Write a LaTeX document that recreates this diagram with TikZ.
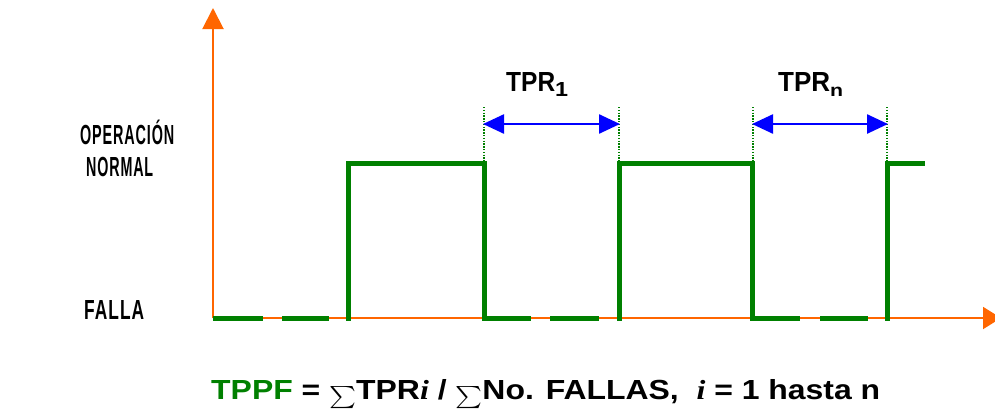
\documentclass[tikz,border=0pt]{standalone}
\usepackage{fontspec}
\setmainfont{Liberation Sans}
\newfontfamily\tnr{Liberation Serif}
\newfontfamily\lblfont{Liberation Sans}[LetterSpace=6]
\usepackage{graphicx}
\usepackage{amsmath}
\usetikzlibrary{arrows.meta}
\definecolor{axisor}{RGB}{255,102,0}
\definecolor{sig}{RGB}{0,128,0}
\definecolor{arr}{RGB}{0,0,255}
\newcommand{\capbox}[1]{\raisebox{0pt}[\fontcharht\font`H][0pt]{#1}}
\newcommand{\fitto}[3]{\resizebox{#1pt}{#2pt}{\capbox{#3}}}
\newcommand{\sumsym}{\raisebox{-1.5pt}{\scalebox{0.8}{$\boldsymbol{\sum}$}}}
\begin{document}
\begin{tikzpicture}[x=1pt,y=-1pt,
  axis/.style={axisor,line width=2pt},
  sigline/.style={sig,line width=5pt,line cap=butt,line join=miter},
  guide/.style={sig,line width=1.2pt,dash pattern=on 1.3pt off 1.5pt},
  span/.style={arr,line width=2.5pt,{Triangle[length=21pt,width=19pt]}-{Triangle[length=21pt,width=19pt]}},
  lbl/.style={inner sep=0pt,anchor=base west},
]
\useasboundingbox (0,0) rectangle (995,408);
% axes
\coordinate (o) at (213,318);
\coordinate (ytip) at (213,8);
\coordinate (xtip) at (1001,318);
\draw[axis,-{Triangle[length=21pt,width=21pt]}] (o) -- (ytip);
\draw[axis,-{Triangle[length=18pt,width=22pt]}] (o) -- (xtip);
% low level dashes
\draw[sigline] (213,318) -- (263,318);
\draw[sigline] (282,318) -- (329,318);
\draw[sigline] (484,318) -- (531,318);
\draw[sigline] (550,318) -- (599,318);
\draw[sigline] (752,318) -- (800,318);
\draw[sigline] (820,318) -- (868,318);
% pulses
\draw[sigline] (348,320.5) -- (348,163.5) -- (484,163.5) -- (484,320.5);
\draw[sigline] (619,320.5) -- (619,163.5) -- (752,163.5) -- (752,320.5);
\draw[sigline] (887,320.5) -- (887,163.5) -- (925,163.5);
% guides
\coordinate (g1t) at (484,107); \coordinate (g1b) at (484,161);
\coordinate (g2t) at (619,107); \coordinate (g2b) at (619,161);
\coordinate (g3t) at (753,107); \coordinate (g3b) at (753,161);
\coordinate (g4t) at (887,107); \coordinate (g4b) at (887,161);
\draw[guide] (g1t) -- (g1b);
\draw[guide] (g2t) -- (g2b);
\draw[guide] (g3t) -- (g3b);
\draw[guide] (g4t) -- (g4b);
% spans
\coordinate (s1a) at (483,124); \coordinate (s1b) at (620,124);
\coordinate (s2a) at (752,124); \coordinate (s2b) at (888,124);
\draw[span] (s1a) -- (s1b);
\draw[span] (s2a) -- (s2b);
% span labels
\node[lbl] (tpr1) at (506,91) {\bfseries\fitto{49}{19}{TPR}\raisebox{-5pt}{\fitto{13}{14}{1}}};
\node[lbl] (tprn) at (778,91) {\bfseries\fitto{52}{19}{TPR}\raisebox{-5pt}{\fitto{13}{12}{n}}};
% level labels
\node[lbl] (op) at (80,144) {\lblfont\bfseries\fitto{94}{19}{OPERACIÓN}};
\node[lbl] (nor) at (86,176) {\lblfont\bfseries\fitto{67}{19}{NORMAL}};
\node[lbl] (fal) at (84,319) {\lblfont\bfseries\fitto{60}{19}{FALLA}};
% formula
\node[lbl] (form) at (211,399) {\bfseries\fitto{669}{19}{{\color{sig}TPPF} = \sumsym TPR{\tnr\bfseries\itshape i} / \sumsym No. FALLAS,\ \ {\tnr\bfseries\itshape i} = 1 hasta n}};
\end{tikzpicture}
\end{document}
